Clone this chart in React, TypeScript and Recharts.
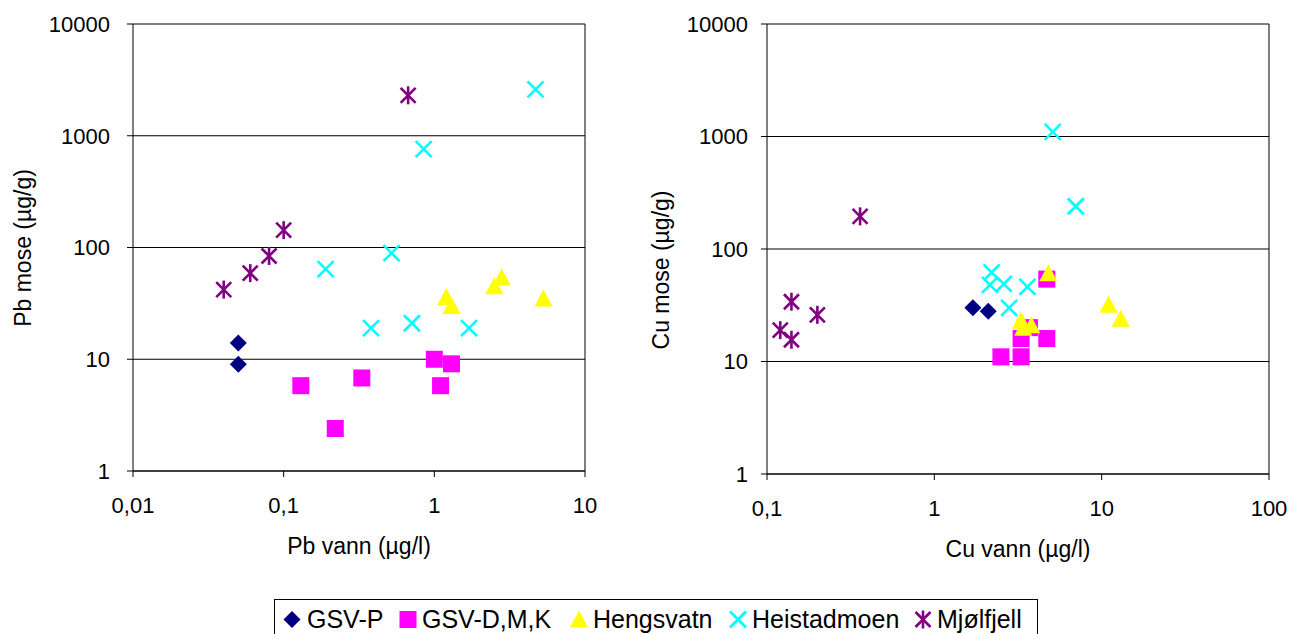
import React from 'react';
import { ScatterChart, Scatter, XAxis, YAxis, CartesianGrid, ReferenceLine } from 'recharts';

// ---- Data: Pb (left chart) ----
const pbGsvP = [{ x: 0.05, y: 14 }, { x: 0.05, y: 9 }];
const pbGsvDMK = [
  { x: 0.13, y: 5.8 }, { x: 0.22, y: 2.4 }, { x: 0.33, y: 6.8 },
  { x: 1.0, y: 10 }, { x: 1.3, y: 9.1 }, { x: 1.1, y: 5.8 },
];
const pbHengsvatn = [
  { x: 1.2, y: 36 }, { x: 1.3, y: 30 }, { x: 2.5, y: 45 }, { x: 2.8, y: 54 }, { x: 5.3, y: 35 },
];
const pbHeistadmoen = [
  { x: 4.7, y: 2600 }, { x: 0.85, y: 760 }, { x: 0.52, y: 89 }, { x: 0.19, y: 64 },
  { x: 0.38, y: 19 }, { x: 0.71, y: 21 }, { x: 1.7, y: 19 },
];
const pbMjolfjell = [
  { x: 0.67, y: 2300 }, { x: 0.1, y: 143 }, { x: 0.08, y: 84 }, { x: 0.06, y: 59 }, { x: 0.04, y: 42 },
];

// ---- Data: Cu (right chart) ----
const cuGsvP = [{ x: 1.7, y: 30 }, { x: 2.1, y: 28 }];
const cuGsvDMK = [
  { x: 4.7, y: 54 }, { x: 2.5, y: 11 }, { x: 3.3, y: 11 }, { x: 3.3, y: 16 }, { x: 3.7, y: 20 }, { x: 4.7, y: 16 },
];
const cuHengsvatn = [
  { x: 4.8, y: 61 }, { x: 11, y: 32 }, { x: 13, y: 24 }, { x: 3.3, y: 23 }, { x: 3.4, y: 20 }, { x: 3.8, y: 21 },
];
const cuHeistadmoen = [
  { x: 5.1, y: 1100 }, { x: 7, y: 240 }, { x: 2.2, y: 62 }, { x: 2.15, y: 48 },
  { x: 2.6, y: 49 }, { x: 3.6, y: 46 }, { x: 2.8, y: 30 },
];
const cuMjolfjell = [
  { x: 0.36, y: 195 }, { x: 0.14, y: 34 }, { x: 0.2, y: 26 }, { x: 0.12, y: 19 }, { x: 0.14, y: 15.6 },
];

// ---- Ticks & labels ----
const pbXTicks = [0.01, 0.1, 1, 10];
const cuXTicks = [0.1, 1, 10, 100];
const yTicks = [1, 10, 100, 1000, 10000];
const seriesNames = ['GSV-P', 'GSV-D,M,K', 'Hengsvatn', 'Heistadmoen', 'Mjølfjell'];

const FONT = "'Liberation Sans', Arial, sans-serif";
const fmt = (v: number) => String(v).replace('.', ',');

const C_NAVY = '#000080';
const C_MAG = '#FF00FF';
const C_YEL = '#FFFF00';
const C_CYAN = '#00FFFF';
const C_PURP = '#800080';

const Diamond = (p: any) => {
  const { cx, cy } = p;
  const r = 8.5;
  return <path d={`M${cx},${cy - r}L${cx + r},${cy}L${cx},${cy + r}L${cx - r},${cy}Z`} fill={C_NAVY} />;
};
const Square = (p: any) => {
  const { cx, cy } = p;
  return <rect x={cx - 8.5} y={cy - 8.5} width={17} height={17} fill={C_MAG} />;
};
const Triangle = (p: any) => {
  const { cx, cy } = p;
  return <path d={`M${cx},${cy - 9}L${cx + 9},${cy + 8}L${cx - 9},${cy + 8}Z`} fill={C_YEL} />;
};
const XMark = (p: any) => {
  const { cx, cy } = p;
  const r = 8;
  return (
    <g stroke={C_CYAN} strokeWidth={2.6}>
      <line x1={cx - r} y1={cy - r} x2={cx + r} y2={cy + r} />
      <line x1={cx - r} y1={cy + r} x2={cx + r} y2={cy - r} />
    </g>
  );
};
const Asterisk = (p: any) => {
  const { cx, cy } = p;
  const r = 7.5;
  return (
    <g stroke={C_PURP} strokeWidth={2.6}>
      <line x1={cx - r} y1={cy - r} x2={cx + r} y2={cy + r} />
      <line x1={cx - r} y1={cy + r} x2={cx + r} y2={cy - r} />
      <line x1={cx} y1={cy - 9} x2={cx} y2={cy + 9} />
    </g>
  );
};
const shapes = [Diamond, Square, Triangle, XMark, Asterisk];

const xTitle = (text: string) => (props: any) => {
  const vb = props.viewBox;
  return (
    <text x={vb.x + vb.width / 2} y={vb.y + 83} textAnchor="middle" fill="#000" fontSize={23} fontFamily={FONT}>
      {text}
    </text>
  );
};
const yTitle = (text: string, cx: number, cy: number) => () => (
  <text
    transform={`translate(${cx},${cy}) rotate(-90)`}
    textAnchor="middle"
    dominantBaseline="central"
    fill="#000"
    fontSize={23}
    fontFamily={FONT}
  >
    {text}
  </text>
);

const tickStyle = { fill: '#000', fontSize: 22, fontFamily: FONT };

type Pt = { x: number; y: number };

function Panel(props: {
  width: number;
  margin: any;
  yWidth: number;
  yTickMargin: number;
  xDomain: [number, number];
  xTicks: number[];
  xLabel: string;
  yLabel: string;
  yLabelX: number;
  yLabelY: number;
  series: Pt[][];
}) {
  const { width, margin, yWidth, yTickMargin, xDomain, xTicks, xLabel, yLabel, yLabelX, yLabelY, series } = props;
  return (
    <ScatterChart width={width} height={590} margin={margin}>
      <CartesianGrid vertical={false} stroke="#000" strokeWidth={1} />
      <XAxis
        type="number"
        dataKey="x"
        scale="log"
        domain={xDomain}
        ticks={xTicks}
        interval={0}
        allowDataOverflow
        tickFormatter={fmt}
        height={80}
        tickSize={6}
        tickMargin={20}
        stroke="#000"
        tick={tickStyle}
        label={{ content: xTitle(xLabel) }}
      />
      <YAxis
        type="number"
        dataKey="y"
        scale="log"
        domain={[1, 10000]}
        ticks={yTicks}
        interval={0}
        allowDataOverflow
        width={yWidth}
        tickSize={6}
        tickMargin={yTickMargin}
        stroke="#000"
        tick={tickStyle}
        label={{ content: yTitle(yLabel, yLabelX, yLabelY) }}
      />
      <ReferenceLine x={xDomain[1]} stroke="#000" strokeWidth={1} />
      {series.map((d, i) => (
        <Scatter key={i} name={seriesNames[i]} data={d} shape={shapes[i]} isAnimationActive={false} />
      ))}
    </ScatterChart>
  );
}

const legendSymbolX = [292, 408, 579, 738, 923];
const legendTextX = [307, 422, 593, 752, 937];

function LegendBox() {
  const left = 274;
  const top = 599;
  return (
    <svg
      width={764}
      height={36}
      style={{ position: 'absolute', left, top, display: 'block' }}
    >
      <rect x={0.5} y={0.5} width={763} height={40} fill="#fff" stroke="#000" strokeWidth={1} />
      {seriesNames.map((n, i) => {
        const S = shapes[i];
        return (
          <g key={n}>
            <S cx={legendSymbolX[i] - left} cy={20.5} />
            <text x={legendTextX[i] - left} y={29} fontSize={25} fontFamily={FONT} fill="#000">
              {n}
            </text>
          </g>
        );
      })}
    </svg>
  );
}

export default function App() {
  return (
    <div style={{ position: 'absolute', left: 0, top: 0, width: 1292, height: 634, background: '#fff', overflow: 'hidden' }}>
      <div style={{ position: 'absolute', left: 0, top: 0 }}>
        <Panel
          width={620}
          margin={{ top: 24, right: 35, bottom: 39, left: 0 }}
          yWidth={133}
          yTickMargin={17}
          xDomain={[0.01, 10]}
          xTicks={pbXTicks}
          xLabel="Pb vann (µg/l)"
          yLabel="Pb mose (µg/g)"
          yLabelX={23}
          yLabelY={248}
          series={[pbGsvP, pbGsvDMK, pbHengsvatn, pbHeistadmoen, pbMjolfjell]}
        />
      </div>
      <div style={{ position: 'absolute', left: 640, top: 0 }}>
        <Panel
          width={652}
          margin={{ top: 24, right: 23, bottom: 36, left: 0 }}
          yWidth={127}
          yTickMargin={13}
          xDomain={[0.1, 100]}
          xTicks={cuXTicks}
          xLabel="Cu vann (µg/l)"
          yLabel="Cu mose (µg/g)"
          yLabelX={21}
          yLabelY={270}
          series={[cuGsvP, cuGsvDMK, cuHengsvatn, cuHeistadmoen, cuMjolfjell]}
        />
      </div>
      <LegendBox />
    </div>
  );
}
